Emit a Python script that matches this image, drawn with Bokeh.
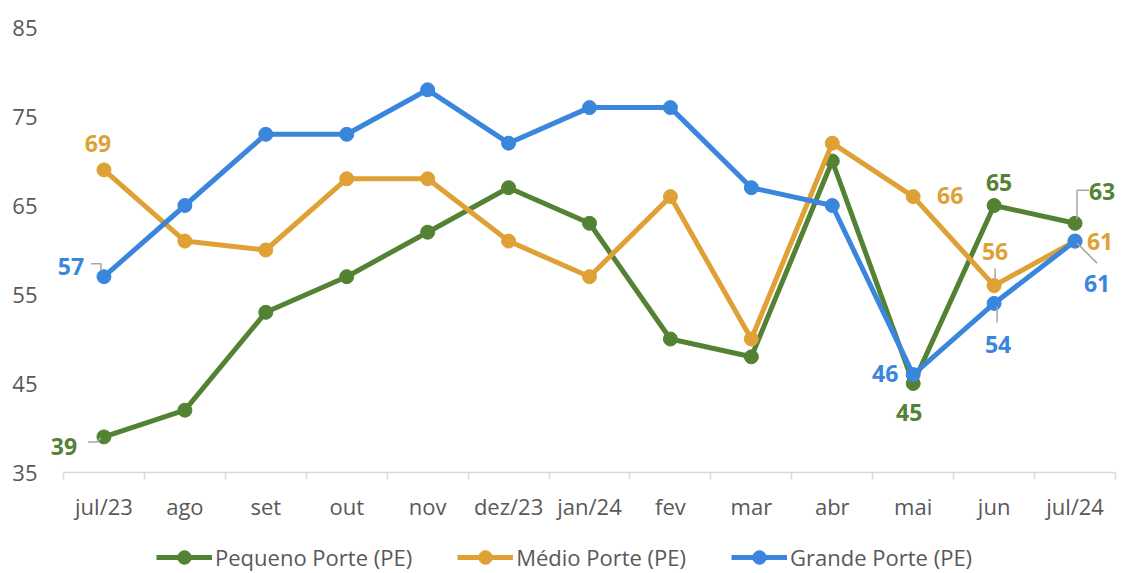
from bokeh.plotting import figure
from bokeh.models import (ColumnDataSource, FixedTicker, CustomJSTickFormatter, Legend, LegendItem,
                          Range1d, LabelSet)
from bokeh.core.properties import value
from bokeh.embed import file_html
from bokeh.resources import INLINE

months = ["jul/23", "ago", "set", "out", "nov", "dez/23", "jan/24", "fev", "mar", "abr", "mai", "jun", "jul/24"]
pequeno = [39, 42, 53, 57, 62, 67, 63, 50, 48, 70, 45, 65, 63]
medio = [69, 61, 60, 68, 68, 61, 57, 66, 50, 72, 66, 56, 61]
grande = [57, 65, 73, 73, 78, 72, 76, 76, 67, 65, 46, 54, 61]
series_names = ["Pequeno Porte (PE)", "Médio Porte (PE)", "Grande Porte (PE)"]
y_ticks = [35, 45, 55, 65, 75, 85]
label_idx = [0, 10, 11, 12]

colors = ["#548235", "#DFA135", "#3A86DD"]
FONT = "Open Sans"
W, H = 1124, 573
PL, PR, PT, PB = 63, 1115, 27, 472     # plot-area box (px) of the category axis / value range
LEFT = 45                               # frame left edge (y labels sit outside)
pxx = (PR - PL) / len(months)
pxy = (PB - PT) / (y_ticks[-1] - y_ticks[0])
x_range = Range1d(-(PL - LEFT) / pxx, len(months) + (W - PR) / pxx)
y_range = Range1d(y_ticks[0] - (H - PB) / pxy, y_ticks[-1] + PT / pxy)

p = figure(frame_width=W - LEFT, frame_height=H, output_backend="svg", toolbar_location=None,
           x_range=x_range, y_range=y_range,
           min_border_left=LEFT, min_border_right=0, min_border_top=0, min_border_bottom=0)
p.outline_line_color = None
p.xgrid.visible = False
p.ygrid.visible = False
p.background_fill_color = "white"
p.border_fill_color = "white"

xs = [i + 0.5 for i in range(len(months))]

# axes
xa = p.xaxis[0]
xa.fixed_location = y_ticks[0]
xa.bounds = (0, len(months))
xa.ticker = FixedTicker(ticks=xs, minor_ticks=list(range(len(months) + 1)))
xa.formatter = CustomJSTickFormatter(args=dict(labels=months), code="return labels[Math.floor(tick)];")
xa.axis_line_color = "#D9D9D9"
xa.axis_line_width = 1.5
xa.major_tick_line_color = None
xa.major_tick_out = 0
xa.major_tick_in = 0
xa.minor_tick_line_color = "#D9D9D9"
xa.minor_tick_line_width = 1.5
xa.minor_tick_in = 0
xa.minor_tick_out = 7
xa.major_label_standoff = 11
xa.major_label_text_font = FONT
xa.major_label_text_font_size = "22px"
xa.major_label_text_color = "#595959"

ya = p.yaxis[0]
ya.ticker = FixedTicker(ticks=y_ticks)
ya.axis_line_color = None
ya.major_tick_line_color = None
ya.major_tick_out = 0
ya.major_tick_in = 0
ya.minor_tick_line_color = None
ya.major_label_standoff = 8
ya.major_label_text_font = FONT
ya.major_label_text_font_size = "22px"
ya.major_label_text_color = "#595959"

all_series = [pequeno, medio, grande]
items = []
for name, vals, col in zip(series_names, all_series, colors):
    src = ColumnDataSource(dict(x=xs, y=vals))
    l = p.line("x", "y", source=src, line_color=col, line_width=5)
    c = p.scatter("x", "y", source=src, size=14, fill_color=col, line_color=col)
    items.append(LegendItem(label=name, renderers=[l, c]))

# data labels: pixel offsets per series per labelled point (styling)
offsets = [
    [(-40, -10), (-4, -29), (5, 23), (27, 32)],     # pequeno
    [(-6, 26), (37, 1), (1, 34), (25, 0)],          # medio
    [(-33, 10), (-28, 1), (4, -41), (22, -42)],     # grande
]
# leader lines as pixel paths relative to point (styling)
leaders = [
    [[(-16, -5), (-7, -5), (-3, -1)], None, None, [(2, 4), (2, 33), (14, 33)]],
    [None, None, [(1, 7), (1, 17)], None],
    [[(-13, 13), (-3, 13), (-3, 6)], None, [(3, -3), (3, -19)], [(2, -2), (22, -22)]],
]
gray = "#A6A6A6"
lx, ly = [], []
for s, (vals, col) in enumerate(zip(all_series, colors)):
    tx, ty, tt, xo, yo = [], [], [], [], []
    for k, i in enumerate(label_idx):
        tx.append(xs[i]); ty.append(vals[i]); tt.append(str(vals[i]))
        xo.append(offsets[s][k][0]); yo.append(offsets[s][k][1])
        ld = leaders[s][k]
        if ld:
            lx.append([xs[i] + dx / pxx for dx, dy in ld])
            ly.append([vals[i] + dy / pxy for dx, dy in ld])
    tsrc = ColumnDataSource(dict(x=tx, y=ty, t=tt, xo=xo, yo=yo))
    ls = LabelSet(x="x", y="y", text="t", source=tsrc, x_offset="xo", y_offset="yo",
                  text_font=value(FONT), text_font_size="23px", text_font_style="bold",
                  text_color=col, text_align="center", text_baseline="middle")
    p.add_layout(ls)
p.multi_line(lx, ly, line_color=gray, line_width=1.5)

legend = Legend(items=items, orientation="horizontal", location=(111, -1),
                label_text_font=FONT, label_text_font_size="22px", label_text_color="#595959",
                glyph_width=56, glyph_height=34, label_standoff=3, spacing=45,
                border_line_color=None, background_fill_alpha=0, padding=2, margin=0)
p.add_layout(legend, "center")

open("out.html", "w").write(file_html(p, INLINE))
